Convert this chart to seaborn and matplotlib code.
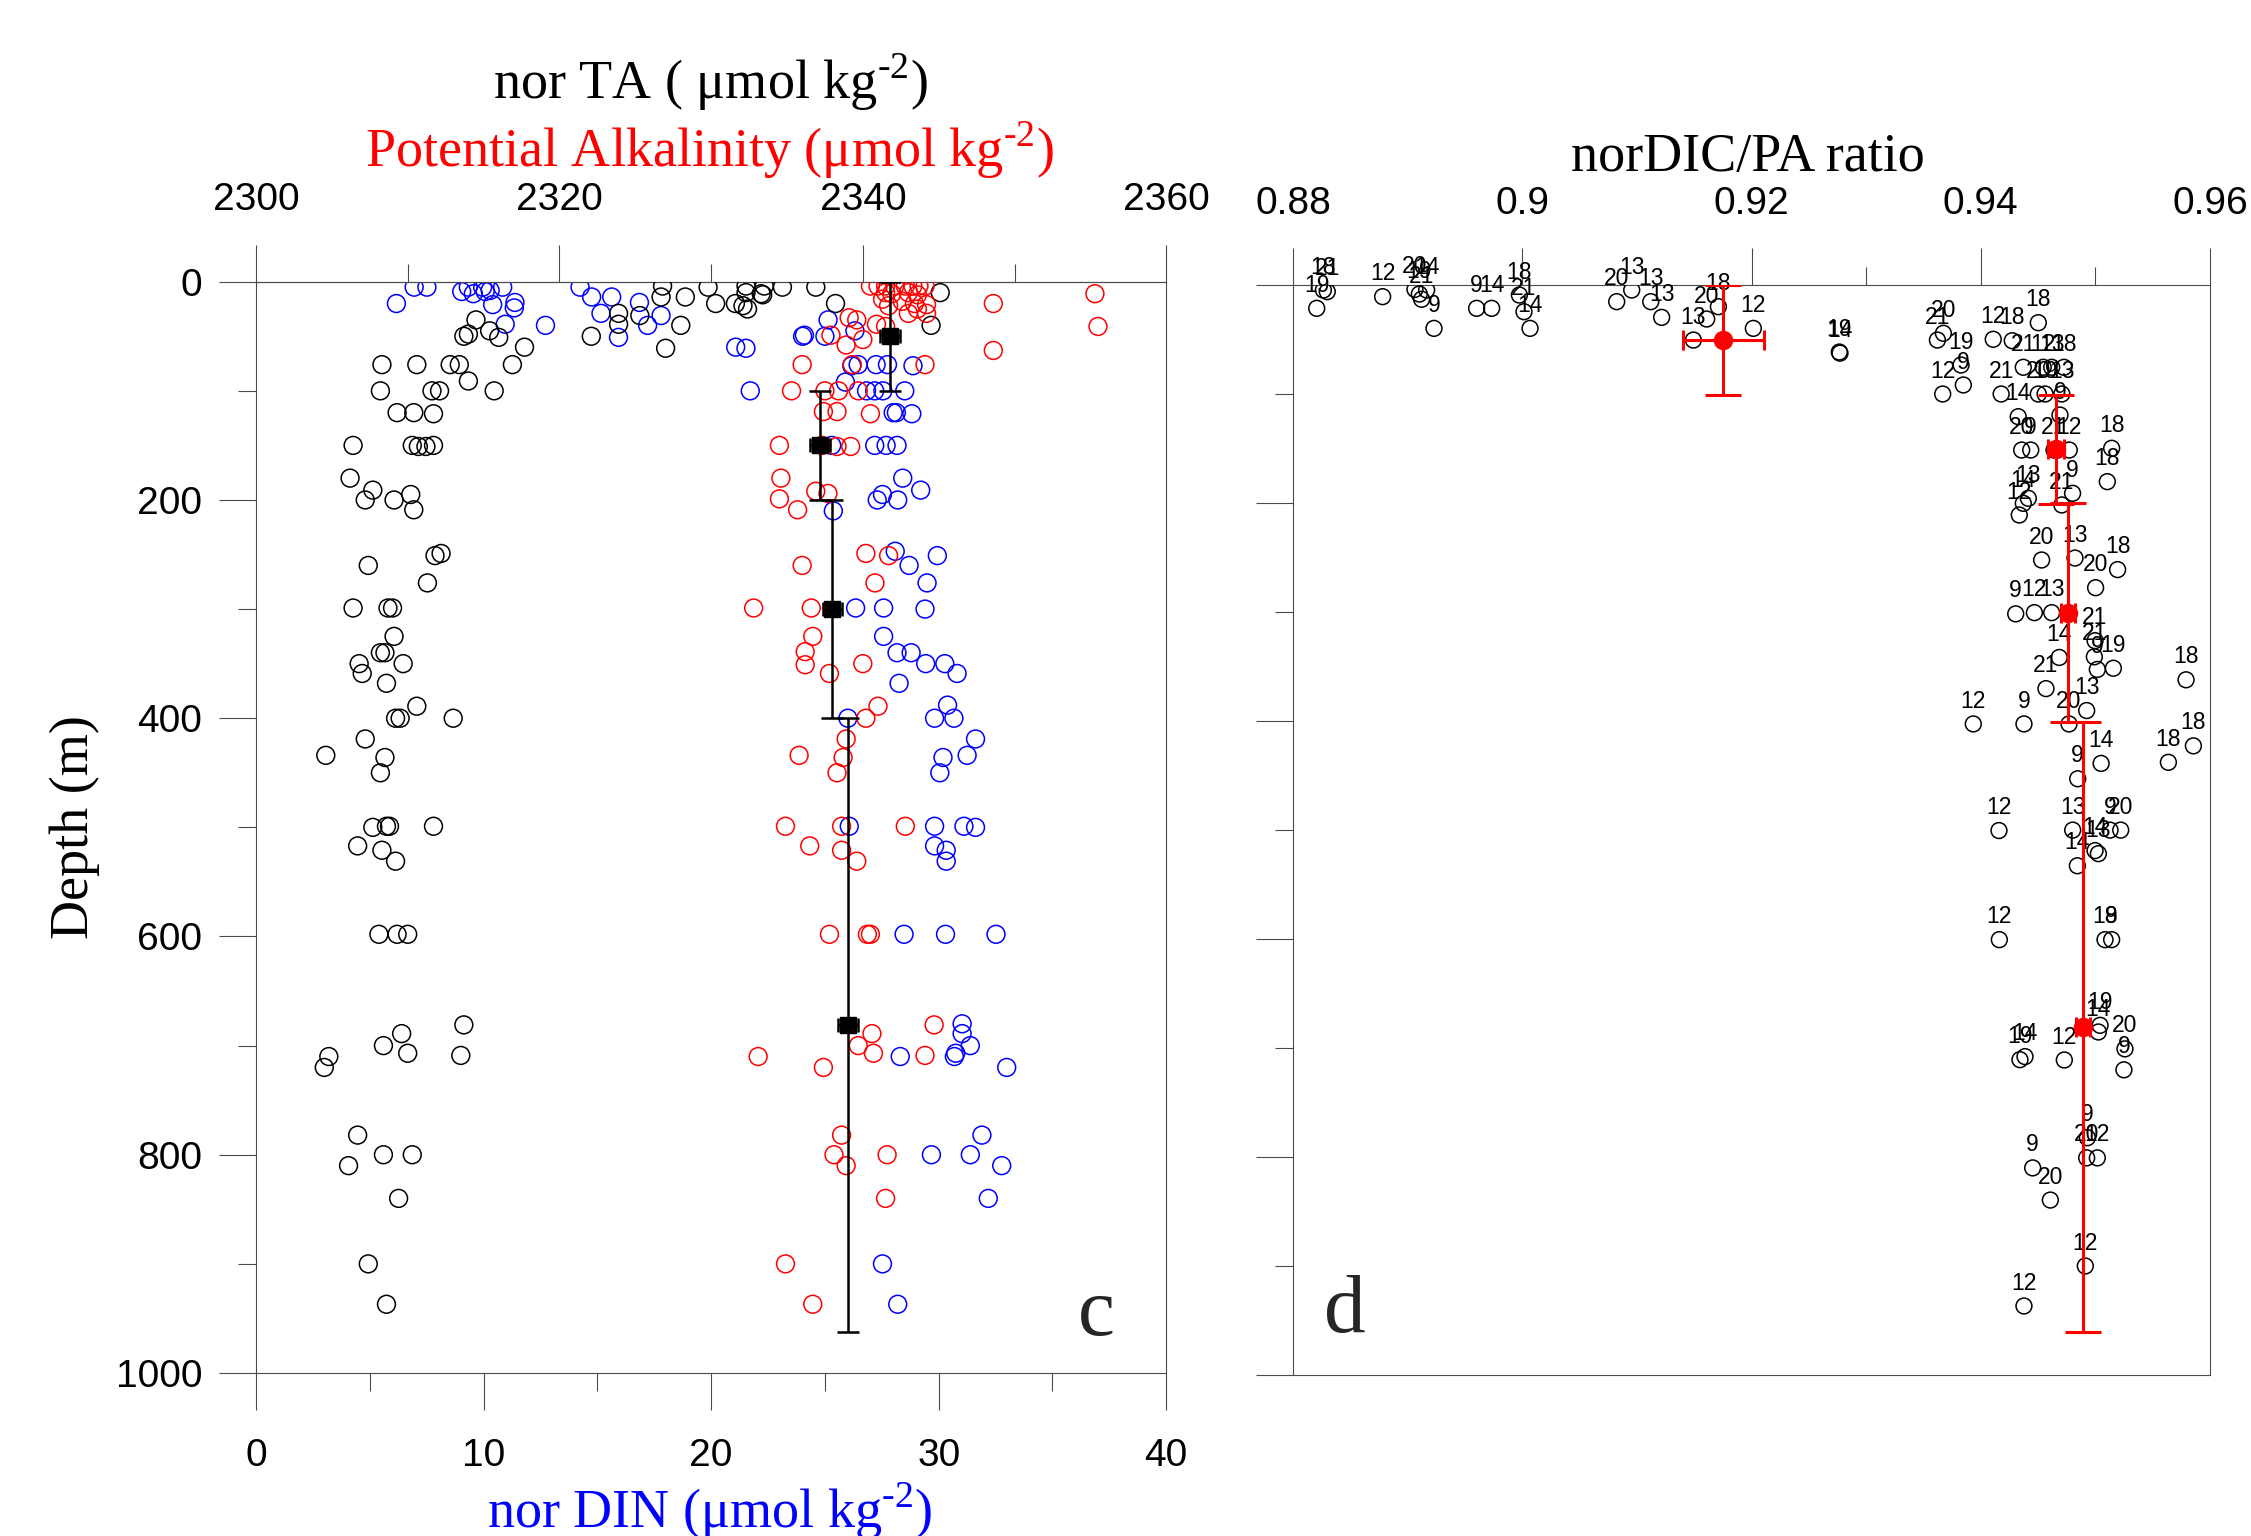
import matplotlib
matplotlib.use("Agg")
import matplotlib.pyplot as plt
import seaborn as sns

# ------------------------------------------------------------------
# Panel c: normalised TA, potential alkalinity (top axis) and DIN (bottom axis)
# ------------------------------------------------------------------
ta_vals = [2326.8, 2329.8, 2332.3, 2333.5, 2334.7, 2336.9, 2345.1, 2326.7, 2328.3, 2332.3,
           2333.3, 2333.4, 2330.3, 2331.6, 2332.1, 2332.4, 2338.2, 2314.5, 2323.9, 2325.3,
           2323.9, 2328.0, 2344.5, 2313.7, 2314.0, 2315.4, 2316.0, 2322.1, 2317.7, 2327.0,
           2308.3, 2310.6, 2312.8, 2313.4, 2316.9, 2314.0, 2308.2, 2311.6, 2312.1, 2315.7,
           2309.3, 2310.4, 2311.7, 2306.4, 2310.3, 2310.7, 2311.2, 2311.7, 2306.2, 2307.7,
           2310.2, 2307.2, 2309.1, 2310.4, 2311.8, 2312.2, 2307.4, 2311.3, 2306.4, 2308.7,
           2309.0, 2309.1, 2308.2, 2308.5, 2306.8, 2309.7, 2307.0, 2308.6, 2310.6, 2309.2,
           2309.5, 2313.0, 2307.2, 2304.6, 2308.5, 2308.2, 2307.7, 2308.6, 2308.8, 2311.7,
           2306.7, 2308.3, 2309.2, 2308.1, 2309.3, 2310.0, 2313.7, 2309.6, 2308.4, 2310.0,
           2313.5, 2304.8, 2304.5, 2306.7, 2308.4, 2310.3, 2306.1, 2309.4, 2307.4, 2308.6]
ta_depth = [4, 5, 4, 4, 5, 5, 10, 14, 14, 10,
            11, 12, 20, 20, 22, 25, 20, 35, 29, 31,
            39, 40, 40, 50, 48, 45, 51, 50, 60, 61,
            76, 76, 76, 76, 76, 91, 100, 100, 100, 100,
            120, 120, 121, 150, 150, 151, 151, 150, 180, 191,
            195, 200, 200, 209, 251, 249, 260, 276, 299, 299,
            299, 325, 340, 340, 350, 350, 359, 368, 389, 400,
            400, 400, 419, 434, 436, 450, 500, 499, 499, 499,
            517, 521, 531, 598, 598, 598, 681, 689, 700, 707,
            709, 710, 720, 782, 800, 800, 810, 840, 900, 937]

pa_vals = [2340.5, 2341.0, 2341.5, 2342.1, 2342.8, 2343.3, 2343.7, 2344.1,
           2341.5, 2341.9, 2343.0, 2343.6, 2355.3,
           2341.3, 2342.6, 2343.4, 2344.2, 2348.6,
           2341.7, 2343.0, 2344.2, 2343.6,
           2339.1, 2339.6, 2340.9, 2341.5, 2355.5,
           2340.0, 2338.9, 2348.6, 2337.9,
           2336.0, 2339.3, 2344.1,
           2335.3, 2337.5, 2338.4, 2339.7,
           2337.4, 2338.3, 2340.5,
           2334.5, 2337.3, 2338.3, 2339.2,
           2334.6, 2336.9, 2337.7, 2334.5, 2335.7,
           2340.2, 2341.7, 2336.0, 2340.8,
           2332.8, 2336.6,
           2336.7, 2336.2, 2336.2, 2337.8, 2340.0,
           2341.0, 2340.2,
           2338.9, 2335.8, 2338.7, 2338.3,
           2334.9, 2338.6, 2342.8,
           2336.5, 2338.6, 2339.6,
           2337.8, 2340.3, 2340.5,
           2344.7, 2340.6, 2339.7, 2340.7, 2333.1, 2344.1, 2337.4,
           2338.6, 2338.1, 2341.6, 2338.9, 2341.5, 2334.9, 2336.7]
pa_depth = [4, 4, 4, 4, 4, 4, 4, 4,
            10, 11, 10, 12, 11,
            16, 18, 20, 21, 20,
            22, 29, 29, 25,
            33, 35, 39, 41, 41,
            53, 58, 63, 49,
            76, 76, 76,
            100, 100, 100, 100,
            119, 119, 121,
            150, 150, 151, 151,
            180, 192, 194, 199, 209,
            249, 251, 260, 276,
            299, 299,
            325, 339, 351, 359, 350,
            389, 400,
            419, 434, 436, 450,
            499, 499, 499,
            517, 521, 531,
            598, 598, 598,
            681, 689, 700, 707, 710, 709, 720,
            782, 800, 800, 810, 840, 900, 937]

din_vals = [6.95, 7.51, 6.17, 9.04, 9.33, 9.55, 9.96, 10.07, 10.29, 10.40,
            10.84, 11.38, 11.35, 10.95, 12.72, 14.24, 14.75, 15.63, 15.16, 16.85,
            17.21, 17.80, 15.93, 21.08, 21.53, 25.14, 24.02, 24.10, 25.00, 26.32,
            26.46, 27.25, 27.75, 28.87, 26.18, 21.72, 25.90, 26.83, 27.19, 27.55,
            28.51, 28.00, 28.14, 28.82, 25.30, 27.19, 27.69, 28.17, 28.42, 29.21,
            27.53, 27.30, 28.20, 25.37, 28.09, 29.94, 28.70, 29.49, 26.35, 27.58,
            29.40, 27.58, 28.17, 28.79, 29.43, 30.27, 30.81, 28.26, 30.39, 29.82,
            30.67, 26.01, 31.62, 30.19, 31.25, 30.05, 26.07, 29.82, 31.11, 31.62,
            29.82, 30.33, 30.33, 28.48, 30.30, 32.52, 31.03, 31.03, 31.39, 30.75,
            30.69, 28.31, 32.99, 31.90, 29.68, 31.39, 32.77, 32.18, 27.53, 28.20]
din_depth = [5, 5, 20, 9, 5, 11, 5, 9, 8, 21,
             5, 19, 24, 39, 40, 5, 14, 14, 29, 19,
             40, 31, 51, 60, 61, 35, 50, 49, 50, 45,
             76, 76, 76, 77, 77, 100, 92, 100, 100, 100,
             100, 120, 120, 121, 150, 150, 150, 150, 180, 191,
             195, 200, 200, 210, 247, 251, 260, 276, 299, 299,
             300, 325, 340, 340, 350, 350, 359, 368, 388, 400,
             400, 400, 419, 436, 434, 450, 499, 499, 499, 500,
             517, 521, 531, 598, 598, 598, 680, 689, 700, 707,
             710, 710, 720, 782, 800, 800, 810, 840, 900, 937]

# layer means of PA with depth ranges
mean_pa = [2341.8, 2337.2, 2338.0, 2339.0]
mean_pa_err = [0.65, 0.65, 0.65, 0.65]
mean_depth = [50, 150, 300, 681]
mean_depth_err = [50, 50, 100, 281]

# ------------------------------------------------------------------
# Panel d: normalised DIC / PA ratio, labelled by station
# ------------------------------------------------------------------
ratio_vals = [0.88207, 0.88265, 0.88299, 0.88782, 0.89064, 0.89102, 0.89166, 0.89122, 0.89230, 0.89602,
              0.89733, 0.89975, 0.90015, 0.90068, 0.90955, 0.90824, 0.91121, 0.91216, 0.91711, 0.91609,
              0.91493, 0.92016, 0.92766, 0.92772, 0.93674, 0.93622, 0.93828, 0.93848, 0.93668, 0.94109,
              0.94275, 0.94502, 0.94371, 0.94545, 0.94619, 0.94726, 0.94178, 0.94502, 0.94561, 0.94707,
              0.94327, 0.94691, 0.94357, 0.94436, 0.94639, 0.94772, 0.95142, 0.95104, 0.94415, 0.94371,
              0.94336, 0.94801, 0.94707, 0.94531, 0.94822, 0.95194, 0.95002, 0.94305, 0.94468, 0.94619,
              0.94997, 0.94991, 0.95017, 0.95157, 0.94685, 0.94569, 0.94924, 0.94770, 0.93935, 0.94377,
              0.95791, 0.95855, 0.95637, 0.95050, 0.94846, 0.94159, 0.94802, 0.95128, 0.95221, 0.95026,
              0.94997, 0.94843, 0.94162, 0.95084, 0.95142, 0.95026, 0.95041, 0.95258, 0.95249, 0.94342,
              0.94386, 0.94729, 0.94930, 0.94924, 0.95017, 0.94453, 0.94607, 0.94912, 0.94377]
ratio_depth = [21.4, 4.6, 6.1, 10.7, 4.0, 8.3, 4.6, 13.1, 39.8, 21.4,
               21.4, 9.2, 24.5, 39.8, 4.6, 15.3, 15.3, 29.7, 19.9, 31.2,
               50.5, 39.8, 61.5, 62.5, 44.3, 50.5, 73.4, 91.7, 100.0, 49.8,
               51.1, 34.6, 75.5, 75.5, 75.5, 75.5, 100, 100, 100, 100,
               120.8, 119.3, 151.4, 151.4, 151.4, 151.4, 149.8, 180.4, 195.7, 200.3,
               211, 191.1, 201.8, 252.3, 250.5, 261.1, 277.7, 301.7, 300.6, 300.6,
               326.3, 341.1, 352.7, 351.6, 341.7, 370.3, 390.4, 402.7, 402.7, 402.7,
               362.2, 422.8, 437.9, 438.9, 453, 500.5, 500.1, 500.1, 500.1, 521.7,
               518.9, 532.8, 600.6, 600.6, 600.6, 685.3, 679.2, 700.8, 720, 710.7,
               707.9, 711, 782.3, 800.8, 800.8, 810, 839.5, 900, 936.7]
ratio_station = ["19", "18", "21", "12", "20", "19", "14", "21", "9", "9",
                 "14", "18", "21", "14", "13", "20", "13", "13", "18", "20",
                 "13", "12", "19", "14", "20", "21", "19", "9", "12", "12",
                 "18", "18", "21", "12", "13", "18", "21", "20", "19", "13",
                 "14", "9", "20", "9", "21", "12", "18", "18", "13", "14",
                 "12", "9", "21", "20", "13", "18", "20", "9", "12", "13",
                 "21", "21", "9", "19", "14", "21", "13", "20", "12", "9",
                 "18", "18", "18", "14", "9", "12", "13", "9", "20", "13",
                 "14", "14", "12", "18", "9", "14", "19", "20", "9", "19",
                 "14", "12", "9", "20", "12", "9", "20", "12", "12"]

mean_ratio = [0.91754, 0.94656, 0.94764, 0.94895]
mean_ratio_err = [0.00355, 0.0007, 0.0006, 0.0006]
mean_ratio_depth = [50.5, 150.5, 300.6, 681.0]
mean_ratio_depth_err = [50.5, 50.0, 100.5, 280.0]

# ------------------------------------------------------------------
sns.set_style("ticks")
plt.rcParams["font.family"] = ["Liberation Sans", "DejaVu Sans"]
plt.rcParams["mathtext.fontset"] = "custom"
plt.rcParams["mathtext.rm"] = "Liberation Serif"

W, H = 2251, 1536
fig = plt.figure(figsize=(W / 100, H / 100), dpi=100)

SERIF = ["Liberation Serif", "DejaVu Serif"]
SPINE_C = "#4a4a4a"
TICK_FS = 28
MAJ_LEN, MIN_LEN = 26.6, 13.0


def style_axes(ax):
    for sp in ax.spines.values():
        sp.set_color(SPINE_C)
        sp.set_linewidth(0.8)
    ax.tick_params(which="both", direction="out", color=SPINE_C, width=0.8,
                   labelsize=TICK_FS, labelcolor="black")
    ax.tick_params(which="major", length=MAJ_LEN)
    ax.tick_params(which="minor", length=MIN_LEN)


def fx(px):
    return px / W


def fy(py):
    return 1 - py / H


# ---------------- panel c ----------------
axL = fig.add_axes([0.11373, 0.10612, 0.40437, 0.71048])
axL.set_xlim(0, 40)
axL.set_ylim(1000, 0)
style_axes(axL)
axL.set_xticks([0, 10, 20, 30, 40])
axL.set_xticks([5, 15, 25, 35], minor=True)
axL.set_yticks(range(0, 1001, 200))
axL.set_yticks(range(100, 1000, 200), minor=True)
axL.tick_params(axis="x", which="both", bottom=True, top=False, pad=20)
axL.tick_params(axis="y", which="both", left=True, right=False, pad=12)

axT = axL.twiny()
axT.set_xlim(2300, 2360)
style_axes(axT)
for side in ("left", "right", "bottom"):
    axT.spines[side].set_visible(False)
axT.set_xticks([2300, 2320, 2340, 2360])
axT.set_xticks([2310, 2330, 2350], minor=True)
axT.tick_params(axis="x", which="both", top=True, bottom=False, pad=19)

circle_kw = dict(marker="o", s=165, facecolors="none", linewidth=1.1, legend=False)
sns.scatterplot(x=din_vals, y=din_depth, ax=axL, edgecolor="blue", zorder=3, **circle_kw)
sns.scatterplot(x=ta_vals, y=ta_depth, ax=axT, edgecolor="black", zorder=3, **circle_kw)
sns.scatterplot(x=pa_vals, y=pa_depth, ax=axT, edgecolor="red", zorder=3, **circle_kw)

axT.errorbar(mean_pa, mean_depth, yerr=mean_depth_err, fmt="none", ecolor="black",
             elinewidth=1.8, capsize=8, capthick=1.8, zorder=5)
axT.errorbar(mean_pa, mean_depth, xerr=mean_pa_err, fmt="s", color="black",
             markersize=11, elinewidth=1.8, capsize=5, capthick=1.8, zorder=6)
axL.set_xlabel("")
axL.set_ylabel("")
axT.set_xlabel("")
axT.set_ylabel("")

# ---------------- panel d ----------------
axR = fig.add_axes([0.57441, 0.10482, 0.40738, 0.70963])
axR.set_xlim(0.88, 0.96)
axR.set_ylim(1000, 0)
style_axes(axR)
axR.xaxis.tick_top()
axR.set_xticks([0.88, 0.90, 0.92, 0.94, 0.96])
axR.set_xticklabels(["0.88", "0.9", "0.92", "0.94", "0.96"])
axR.set_xticks([0.93, 0.95], minor=True)
axR.tick_params(axis="x", which="both", top=True, bottom=False, pad=19)
axR.set_yticks(range(0, 1001, 200))
axR.set_yticks(range(100, 1000, 200), minor=True)
axR.tick_params(axis="y", which="both", left=True, right=False, labelleft=False)

sns.scatterplot(x=ratio_vals, y=ratio_depth, ax=axR, edgecolor="black", marker="o", s=130,
                facecolors="none", linewidth=1.1, legend=False, zorder=3)
for xv, yv, lab in zip(ratio_vals, ratio_depth, ratio_station):
    axR.annotate(lab, (xv, yv), xytext=(0, 16.5), textcoords="offset points",
                 ha="center", va="center", fontsize=16.5, color="black", zorder=4)

axR.errorbar(mean_ratio, mean_ratio_depth, yerr=mean_ratio_depth_err, fmt="none", ecolor="red",
             elinewidth=2.2, capsize=13, capthick=2.2, zorder=5)
axR.errorbar(mean_ratio, mean_ratio_depth, xerr=mean_ratio_err, fmt="o", color="red",
             markersize=13, elinewidth=2.2, capsize=7, capthick=2.2, zorder=6)
axR.set_xlabel("")
axR.set_ylabel("")

# ---------------- titles and labels ----------------
sup = r"$^{\text{-2}}$"
fig.text(fx(710), fy(99), "nor TA ( \u03bcmol kg" + sup + ")", ha="center", va="baseline",
         fontsize=39, family=SERIF, color="black")
fig.text(fx(710), fy(167), "Potential Alkalinity (\u03bcmol kg" + sup + ")", ha="center",
         va="baseline", fontsize=39, family=SERIF, color="red")
fig.text(fx(1748), fy(171), "norDIC/PA ratio", ha="center", va="baseline",
         fontsize=39, family=SERIF, color="black")
fig.text(fx(710), fy(1528), "nor DIN (\u03bcmol kg" + sup + ")", ha="center", va="baseline",
         fontsize=39, family=SERIF, color="blue")
fig.text(fx(75), fy(827), "Depth (m)", ha="center", va="center", rotation=90,
         fontsize=39, family=SERIF, color="black")
fig.text(fx(1096), fy(1335), "c", ha="center", va="baseline", fontsize=60, family=SERIF)
fig.text(fx(1345), fy(1332), "d", ha="center", va="baseline", fontsize=60, family=SERIF)

fig.savefig("out.png", dpi=100)
